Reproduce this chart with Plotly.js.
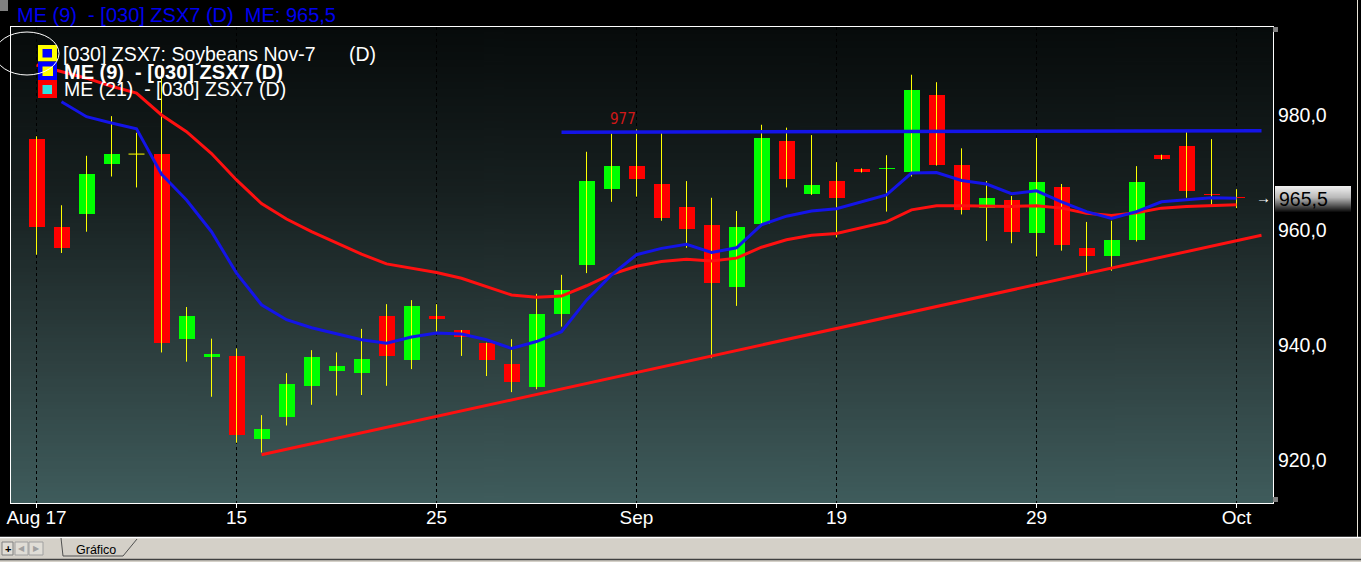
<!DOCTYPE html>
<html><head><meta charset="utf-8">
<script src="https://cdn.plot.ly/plotly-3.0.1.min.js"></script>
<style>html,body{margin:0;padding:0;background:#000;overflow:hidden}#chart{width:1361px;height:562px}</style>
</head><body><div id="chart"></div>
<script>
// ---- data (bar index 0..48) ----
const openP  = [975.8,960.6,962.7,971.5,973.2,973.2,941.1,937.9,938.1,923.7,927.5,932.9,935.4,935.2,945.1,937.4,945.1,942.6,940.4,936.7,932.7,945.4,953.9,967.2,971.1,968.0,964.0,960.9,950.1,961.1,975.5,966.3,968.5,970.6,970.6,970.1,983.5,971.3,963.8,965.3,959.4,967.5,956.9,955.4,958.3,973.0,974.6,966.3,965.7];
const highP  = [976.3,964.3,972.9,979.8,976.9,988.4,946.6,941.1,939.4,927.8,935.1,939.1,938.7,942.8,947.1,947.8,947.1,942.6,940.4,941.0,948.9,952.2,973.6,976.9,977.5,976.9,968.5,965.6,963.3,978.3,977.8,976.5,971.8,970.7,973.0,987.0,985.7,974.2,968.5,965.9,976.0,968.0,961.4,961.6,971.1,973.1,977.1,975.8,967.1];
const lowP   = [955.7,956.0,959.7,969.3,967.4,938.7,937.1,931.0,923.0,921.3,926.0,929.6,931.2,931.3,932.9,935.8,942.3,938.1,934.6,931.8,932.3,943.2,952.5,964.9,965.8,961.6,956.9,937.7,946.8,961.1,967.4,966.1,958.7,970.0,963.2,969.3,971.2,962.7,958.1,957.7,955.4,956.4,952.7,952.9,958.0,972.2,965.6,964.3,963.8];
const closeP = [960.6,956.9,969.7,973.2,973.2,940.4,945.0,938.4,924.4,925.4,933.2,937.9,936.4,937.6,938.1,946.7,944.6,941.4,937.4,933.5,945.4,949.6,968.6,971.1,968.9,962.1,960.1,950.7,960.5,976.0,968.9,967.8,965.6,970.1,970.8,984.3,971.3,963.4,965.6,959.7,968.3,957.4,955.4,958.3,968.3,972.3,966.8,966.0,965.5];
const ma9  = [null,982.3,979.7,978.6,977.6,969.7,965.2,959.7,952.5,947.0,944.4,943.0,941.9,940.9,940.3,941.4,942.1,941.9,940.9,939.4,940.6,942.3,947.8,952.2,955.7,956.8,957.5,956.1,956.9,960.9,962.4,963.3,963.7,964.9,966.1,969.9,970.0,968.6,968.0,966.3,966.8,964.9,963.2,962.0,963.2,964.9,965.3,965.6,965.5];
const ma21 = [988.7,987.6,986.4,985.0,983.8,980.0,977.1,973.3,968.7,964.6,961.9,959.7,957.7,955.8,954.1,953.3,952.6,951.6,950.1,948.7,948.3,948.5,950.3,952.3,953.7,954.5,954.9,954.6,955.1,957.0,958.3,959.1,959.4,960.4,961.4,963.5,964.2,964.2,964.1,964.1,964.2,963.8,962.9,962.5,963.0,963.8,964.1,964.2,964.4];
const resistX = [21, 49];
const resistY = [977.0, 977.25];
const supportX = [9, 49];
const supportY = [920.9, 959.1];
const xTickPos = [0, 8, 16, 24, 32, 40, 48];
const xTickText = ['Aug 17', '15', '25', 'Sep', '19', '29', 'Oct'];
const yTickVals = [920, 940, 960, 980];
const yTickText = ['920,0', '940,0', '960,0', '980,0'];
const lastValue = 965.5;
const resistLabel = '977';

// ---- derived trace arrays ----
const idx = openP.map((_, i) => i);
const bodyW = 0.64;
const wx = [], wy = [];
idx.forEach(i => {
  wx.push(i, i, null); wy.push(lowP[i], highP[i], null);
  if (openP[i] === closeP[i]) { wx.push(i - bodyW / 2, i + bodyW / 2, null); wy.push(openP[i], openP[i], null); }
});
const bodyBase = idx.map(i => Math.min(openP[i], closeP[i]));
const bodyLen = idx.map(i => Math.abs(closeP[i] - openP[i]));
const bodyCol = idx.map(i => closeP[i] >= openP[i] ? '#00ff00' : '#ff0000');

const traces = [
  {type: 'scatter', mode: 'lines', x: wx, y: wy, line: {color: '#ffff00', width: 1}, hoverinfo: 'skip'},
  {type: 'bar', x: idx, y: bodyLen, base: bodyBase, width: bodyW, marker: {color: bodyCol, line: {width: 0}}, hoverinfo: 'skip'},
  {type: 'scatter', mode: 'lines', x: idx, y: ma21, line: {color: '#ff1010', width: 3}, hoverinfo: 'skip'},
  {type: 'scatter', mode: 'lines', x: idx, y: ma9, line: {color: '#1414e8', width: 3}, hoverinfo: 'skip'},
  {type: 'scatter', mode: 'lines', x: resistX, y: resistY, line: {color: '#1414e8', width: 3.5}, hoverinfo: 'skip'},
  {type: 'scatter', mode: 'lines', x: supportX, y: supportY, line: {color: '#ff1010', width: 3}, hoverinfo: 'skip'}
];

// ---- pixel helpers for decorations ----
const L = 11, R = 1273, T = 27, B = 503;
const px = x => (x - L) / (R - L);
const py = y => (B - y) / (B - T);

function grad(stops) {
  const c = document.createElement('canvas'); c.width = 4; c.height = 256;
  const g = c.getContext('2d'); const lg = g.createLinearGradient(0, 0, 0, 256);
  stops.forEach(s => lg.addColorStop(s[0], s[1])); g.fillStyle = lg; g.fillRect(0, 0, 4, 256);
  return c.toDataURL();
}
const FONT = 'Liberation Sans, Arial, sans-serif';

function rect(x0, y0, x1, y1, fill, lineCol, lw) {
  return {type: 'rect', xref: 'paper', yref: 'paper', x0: px(x0), x1: px(x1), y0: py(y1), y1: py(y0),
    fillcolor: fill, line: {color: lineCol || fill, width: lw || 0}, layer: 'above'};
}
function line(x0, y0, x1, y1, col, w) {
  return {type: 'line', xref: 'paper', yref: 'paper', x0: px(x0), x1: px(x1), y0: py(y0), y1: py(y1), line: {color: col, width: w || 1}, layer: 'above'};
}
function txt(x, y, text, size, color, anchor, extra) {
  return Object.assign({xref: 'paper', yref: 'paper', x: px(x), y: py(y), text: text, showarrow: false,
    xanchor: anchor || 'left', yanchor: 'middle', font: {family: FONT, size: size, color: color}}, extra || {});
}

const shapes = [
  // legend squares
  rect(38, 45, 57, 61.5, '#ffff00'), rect(42.5, 49, 52, 57.5, '#0000ff'),
  rect(38, 61.5, 57, 80, '#0000ff'), rect(42.5, 66.5, 53, 76, '#ffff00'),
  rect(38, 80, 57, 98, '#ff0000'), rect(42.5, 85, 52, 94, '#30e0e0'),
  // ellipse
  {type: 'circle', xref: 'paper', yref: 'paper', x0: px(-5), x1: px(59), y0: py(75), y1: py(32), line: {color: '#ffffff', width: 1}, layer: 'above'},
  // small gray squares
  rect(0, 0, 8, 11, '#808080'), rect(1273, 27, 1278, 32, '#808080'), rect(1273, 497, 1278, 502, '#808080'),
  // window frame
  line(1357.5, 0, 1357.5, 537, '#e8e4d8', 1),
  // bottom bar
  rect(0, 537, 1361, 562, '#d4d0c8'),
  line(0, 537.5, 1361, 537.5, '#ffffff', 1.5),
  line(0, 559.5, 1361, 559.5, '#404040', 1.5),
  {type: 'path', xref: 'paper', yref: 'paper', layer: 'above',
   path: `M ${px(61)} ${py(538)} L ${px(63)} ${py(556)} L ${px(123)} ${py(556)} L ${px(137)} ${py(539)}`,
   line: {color: '#505050', width: 1}},
  rect(2, 542, 13, 555, '#e0ddd6', '#808080', 1),
  rect(15, 542, 28, 555, '#e0ddd6', '#a0a0a0', 1),
  rect(29, 542, 43, 555, '#e0ddd6', '#a0a0a0', 1)
];

const annotations = [
  txt(15, 15, 'ME (9)\u00a0\u00a0- [030] ZSX7 (D)\u00a0\u00a0ME: 965,5', 20, '#0000ee'),
  txt(61, 54, '[030] ZSX7: Soybeans Nov-7', 19.5, '#ffffff'),
  txt(347, 54, '(D)', 19.5, '#ffffff'),
  txt(62, 71.5, '<b>ME (9)\u00a0\u00a0- [030] ZSX7 (D)</b>', 20, '#ffffff'),
  txt(62, 89.5, 'ME (21)\u00a0\u00a0- [030] ZSX7 (D)', 19.5, '#ffffff'),
  {x: 23.44, y: resistY[0], xref: 'x', yref: 'y', text: resistLabel, showarrow: false, yanchor: 'bottom', yshift: 2,
   font: {family: 'Liberation Sans Narrow, DejaVu Sans Condensed, Arial Narrow, sans-serif', size: 15, color: '#d01818'}},
  txt(1277, 199, String(lastValue.toFixed(1)).replace('.', ','), 19.5, '#000000'),
  txt(1273, 198, '→', 15, '#ffffff', 'right'),
  txt(74, 549.5, 'Gráfico', 12.5, '#000000'),
  txt(7.5, 548.5, '<b>+</b>', 11, '#000000', 'center'),
  txt(21.5, 548.5, '◀', 8, '#a0a0a0', 'center'),
  txt(36, 548.5, '▶', 8, '#a0a0a0', 'center')
];

const images = [
  {source: grad([[0, '#070b0b'], [0.35, '#172020'], [0.7, '#2e4040'], [1, '#3f5c5c']]), xref: 'paper', yref: 'paper',
   x: 0, y: 1, sizex: 1, sizey: 1, sizing: 'stretch', xanchor: 'left', yanchor: 'top', layer: 'below'},
  {source: grad([[0, '#f2f2f2'], [0.45, '#b8b8b8'], [1, '#080808']]), xref: 'paper', yref: 'paper',
   x: px(1275), y: py(186), sizex: px(1351) - px(1275), sizey: py(186) - py(212), sizing: 'stretch', xanchor: 'left', yanchor: 'top', layer: 'above'}
];

const layout = {
  width: 1361, height: 562,
  margin: {l: L, r: 1361 - R, t: T, b: 562 - B, pad: 0},
  paper_bgcolor: '#000000', plot_bgcolor: '#000000',
  showlegend: false, bargap: 0,
  xaxis: {range: [-1.02, 49.46], tickmode: 'array', tickvals: xTickPos, ticktext: xTickText,
    showgrid: true, gridcolor: '#000000', griddash: 'dot', gridwidth: 1, zeroline: false,
    showline: true, linecolor: '#ffffff', linewidth: 1, mirror: true,
    ticks: 'outside', ticklen: 4, tickcolor: '#ffffff', tickwidth: 1, ticklabelstandoff: -7,
    tickfont: {family: FONT, size: 19, color: '#ffffff'}, fixedrange: true},
  yaxis: {range: [912.52, 995.3], side: 'right', tickmode: 'array', tickvals: yTickVals, ticktext: yTickText,
    showgrid: false, zeroline: false, showline: true, linecolor: '#ffffff', linewidth: 1, mirror: true,
    ticks: '', tickfont: {family: FONT, size: 19.5, color: '#ffffff'}, fixedrange: true},
  shapes: shapes, annotations: annotations, images: images
};

Plotly.newPlot('chart', traces, layout, {staticPlot: true, displayModeBar: false});
</script>
</body></html>
